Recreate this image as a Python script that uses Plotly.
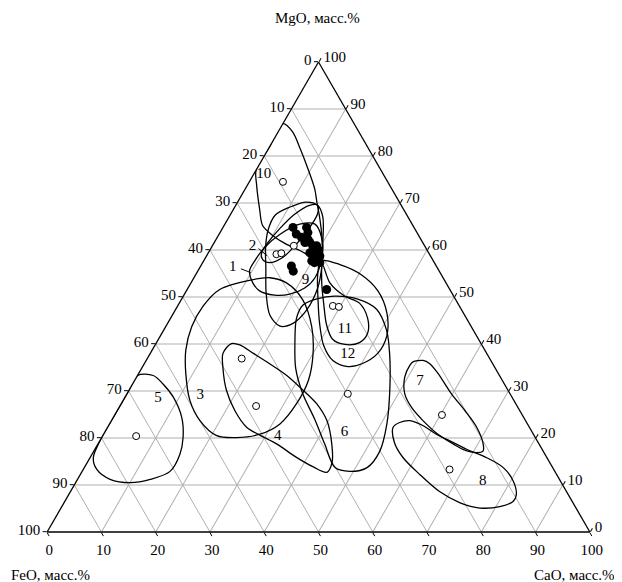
import plotly.graph_objects as go

# ---- data (MgO, CaO in mass %; FeO = 100 - MgO - CaO) ----
tick_values = [0, 10, 20, 30, 40, 50, 60, 70, 80, 90, 100]

c1_mgo = [55.6, 57.7, 60.5, 63.3, 65.5, 65.5, 62.7, 58.4, 54.1, 51.9, 50.6, 50.4, 51.3, 53.0]
c1_cao = [9.5, 9.4, 9.8, 11.2, 13.8, 16.6, 19.2, 21.4, 22.3, 21.5, 19.4, 16.7, 13.5, 11.4]
c2_mgo = [59.4, 61.6, 64.6, 67.6, 69.5, 69.5, 67.6, 64.2, 60.9, 58.4, 57.3, 57.9]
c2_cao = [9.8, 9.9, 10.6, 11.8, 13.6, 15.1, 16.0, 15.9, 15.2, 14.2, 12.4, 10.8]
c3_mgo = [53.7, 51.6, 48.0, 43.7, 38.7, 33.7, 28.0, 23.7, 20.5, 20.1, 20.8, 23.0, 27.3, 32.3, 38.0, 43.7, 49.4, 53.0, 54.1]
c3_cao = [11.1, 6.0, 4.7, 4.8, 6.2, 8.7, 12.3, 16.3, 21.0, 24.9, 28.8, 31.4, 32.3, 32.0, 30.0, 26.9, 22.4, 17.6, 14.0]
c4_mgo = [38.0, 40.1, 39.8, 38.0, 35.8, 33.3, 30.5, 27.3, 23.7, 18.7, 14.8, 12.7, 13.9, 16.1, 18.7, 20.6, 22.3, 25.8, 30.1, 34.8]
c4_cao = [13.4, 13.9, 15.6, 19.0, 23.1, 27.5, 31.6, 36.0, 39.7, 43.1, 45.1, 45.2, 42.0, 37.6, 33.0, 28.9, 25.6, 21.7, 18.0, 15.0]
c5_mgo = [33.3, 33.3, 31.5, 28.7, 24.4, 20.1, 16.5, 12.9, 11.2, 10.5, 11.2, 13.3, 15.8, 20.0, 25.0, 30.0]
c5_cao = [0.0, 2.9, 5.6, 8.9, 12.6, 15.0, 16.2, 16.2, 13.4, 10.1, 6.0, 2.5, 0.6, 0.0, 0.0, 0.0]
c6_mgo = [45.5, 48.3, 49.6, 50.2, 49.6, 47.4, 42.9, 38.0, 30.5, 23.0, 17.2, 13.7, 12.9, 13.7, 18.7, 24.0, 29.4, 34.8, 40.1]
c6_cao = [23.2, 23.0, 24.9, 27.9, 32.3, 37.0, 41.1, 44.1, 47.9, 51.1, 52.7, 52.1, 49.3, 46.2, 41.8, 37.3, 32.4, 28.4, 25.6]
c7_mgo = [36.2, 36.5, 35.8, 33.7, 29.4, 25.8, 22.3, 18.7, 17.2, 16.9, 17.6, 18.7, 20.8, 23.7, 26.5, 29.4, 33.0, 35.5]
c7_cao = [49.3, 51.0, 52.6, 55.2, 59.8, 64.1, 68.0, 71.0, 71.7, 70.7, 67.8, 65.5, 61.6, 57.4, 53.9, 51.2, 49.4, 49.1]
c8_mgo = [22.3, 23.3, 23.7, 22.6, 20.8, 19.4, 17.6, 15.8, 13.7, 10.8, 7.9, 6.5, 5.4, 5.1, 6.2, 8.6, 12.2, 15.8, 19.0]
c8_cao = [52.6, 53.3, 55.0, 58.0, 61.3, 64.5, 68.5, 73.1, 77.2, 80.5, 82.5, 82.6, 80.7, 77.2, 73.0, 68.0, 62.6, 57.7, 54.5]
c9_mgo = [60.5, 64.2, 67.4, 69.1, 70.2, 69.5, 67.0, 61.6, 56.9, 51.9, 47.2, 44.4, 43.8, 46.1, 50.9, 56.2]
c9_cao = [10.0, 8.6, 8.3, 10.1, 12.7, 15.1, 17.3, 20.0, 22.2, 23.9, 24.2, 23.1, 21.0, 18.0, 14.9, 12.2]
c10_mgo = [77.0, 73.8, 68.7, 65.2, 63.1, 61.4, 59.9, 58.4, 59.4, 63.7, 67.0, 70.2, 73.0, 77.3, 81.5, 85.2, 86.9, 82.0]
c10_cao = [0.0, 1.7, 4.8, 7.1, 10.0, 13.1, 16.6, 20.1, 20.9, 18.7, 16.7, 14.6, 12.8, 9.4, 5.9, 2.6, 0.0, 0.0]
c11_mgo = [56.9, 53.0, 50.2, 48.7, 45.5, 42.3, 40.3, 39.9, 41.0, 44.0, 48.7, 53.0]
c11_cao = [22.3, 25.6, 29.7, 33.2, 36.3, 37.9, 37.4, 34.9, 32.1, 29.5, 26.6, 24.1]
c12_mgo = [57.7, 56.9, 54.7, 51.3, 46.6, 41.8, 38.0, 35.8, 35.2, 36.5, 39.7, 44.4, 49.8, 54.7]
c12_cao = [21.6, 25.5, 30.6, 35.3, 39.3, 41.7, 41.9, 40.1, 37.8, 34.4, 31.1, 28.0, 25.0, 22.5]

filled_mgo = [64.8, 63.4, 64.8, 63.7, 62.7, 61.6, 60.9, 59.4, 58.7, 57.7, 57.3, 57.3, 56.6, 55.5, 51.6,
              61.6, 60.9, 59.4, 60.2, 58.4, 62.2, 58.0]
filled_cao = [12.9, 14.2, 15.4, 16.2, 15.5, 17.6, 18.5, 19.9, 20.9, 19.9, 20.6, 21.6, 16.7, 17.6, 25.7,
              16.7, 19.2, 18.7, 19.8, 19.8, 17.0, 20.8]

open_mgo = [74.5, 59.1, 59.3, 60.9, 48.1, 47.9, 36.9, 26.8, 29.4, 24.9, 13.3, 20.4]
open_cao = [6.2, 12.7, 13.5, 15.0, 28.6, 29.8, 17.4, 25.1, 40.7, 60.3, 67.5, 6.2]

label_text = ["1", "2", "3", "4", "5", "6", "7", "8", "9", "10", "11", "12"]
label_mgo = [56.4, 60.9, 29.0, 20.4, 28.5, 21.2, 32.0, 10.7, 53.6, 76.2, 43.1, 37.8]
label_cao = [6.0, 7.4, 13.7, 32.3, 6.2, 44.2, 52.7, 74.9, 20.8, 1.8, 33.3, 36.5]

leader1_mgo = [56.0, 55.2]
leader1_cao = [7.7, 9.9]
leader2_mgo = [60.3, 58.8]
leader2_cao = [8.8, 11.1]

axis_titles = ["MgO, масс.%", "FeO, масс.%", "CaO, масс.%"]

contours = [
    (c1_mgo, c1_cao), (c2_mgo, c2_cao), (c3_mgo, c3_cao), (c4_mgo, c4_cao),
    (c5_mgo, c5_cao), (c6_mgo, c6_cao), (c7_mgo, c7_cao), (c8_mgo, c8_cao),
    (c9_mgo, c9_cao), (c10_mgo, c10_cao), (c11_mgo, c11_cao), (c12_mgo, c12_cao),
]


def feo(mgo, cao):
    return [round(100 - m - c, 2) for m, c in zip(mgo, cao)]


SERIF = "Liberation Serif, Times New Roman, serif"
fig = go.Figure()

for mgo, cao in contours:
    m = list(mgo) + [mgo[0]]
    c = list(cao) + [cao[0]]
    fig.add_trace(go.Scatterternary(
        a=m, b=feo(m, c), c=c, mode="lines",
        line=dict(color="black", width=1.3, shape="spline", smoothing=0.9),
        hoverinfo="skip", showlegend=False))

for mgo, cao in [(leader1_mgo, leader1_cao), (leader2_mgo, leader2_cao)]:
    fig.add_trace(go.Scatterternary(
        a=mgo, b=feo(mgo, cao), c=cao, mode="lines",
        line=dict(color="black", width=1), hoverinfo="skip", showlegend=False))

fig.add_trace(go.Scatterternary(
    a=filled_mgo, b=feo(filled_mgo, filled_cao), c=filled_cao, mode="markers",
    marker=dict(color="black", size=9, line=dict(width=0)), showlegend=False))

fig.add_trace(go.Scatterternary(
    a=open_mgo, b=feo(open_mgo, open_cao), c=open_cao, mode="markers",
    marker=dict(color="white", size=7, line=dict(color="black", width=1)), showlegend=False))

fig.add_trace(go.Scatterternary(
    a=label_mgo, b=feo(label_mgo, label_cao), c=label_cao, mode="text",
    text=label_text, textfont=dict(family=SERIF, size=15, color="black"),
    textposition="middle center", showlegend=False, hoverinfo="skip"))

rev_text = [str(100 - v) for v in tick_values]
axis_common = dict(
    tickmode="array", tickvals=tick_values, ticktext=rev_text,
    ticks="outside", ticklen=4, tickcolor="black",
    showgrid=True, gridcolor="#b0b0b0", gridwidth=1,
    linecolor="black", linewidth=1.3, min=0, title=dict(text=""),
    tickfont=dict(family=SERIF, size=15, color="black"),
)

fig.update_layout(
    width=622, height=582,
    margin=dict(l=39, r=40, t=54, b=58),
    paper_bgcolor="white",
    font=dict(family=SERIF, size=15, color="black"),
    ternary=dict(sum=100, bgcolor="white",
                 aaxis=axis_common, baxis=axis_common, caxis=axis_common),
    annotations=[
        dict(text=axis_titles[0], xref="paper", yref="paper", x=0.499, y=1.094,
             xanchor="center", yanchor="middle", showarrow=False,
             font=dict(family=SERIF, size=15)),
        dict(text=axis_titles[1], xref="paper", yref="paper", x=-0.07, y=-0.092,
             xanchor="left", yanchor="middle", showarrow=False,
             font=dict(family=SERIF, size=15)),
        dict(text=axis_titles[2], xref="paper", yref="paper", x=1.049, y=-0.092,
             xanchor="right", yanchor="middle", showarrow=False,
             font=dict(family=SERIF, size=15)),
    ],
)

fig.write_html("out.html")
